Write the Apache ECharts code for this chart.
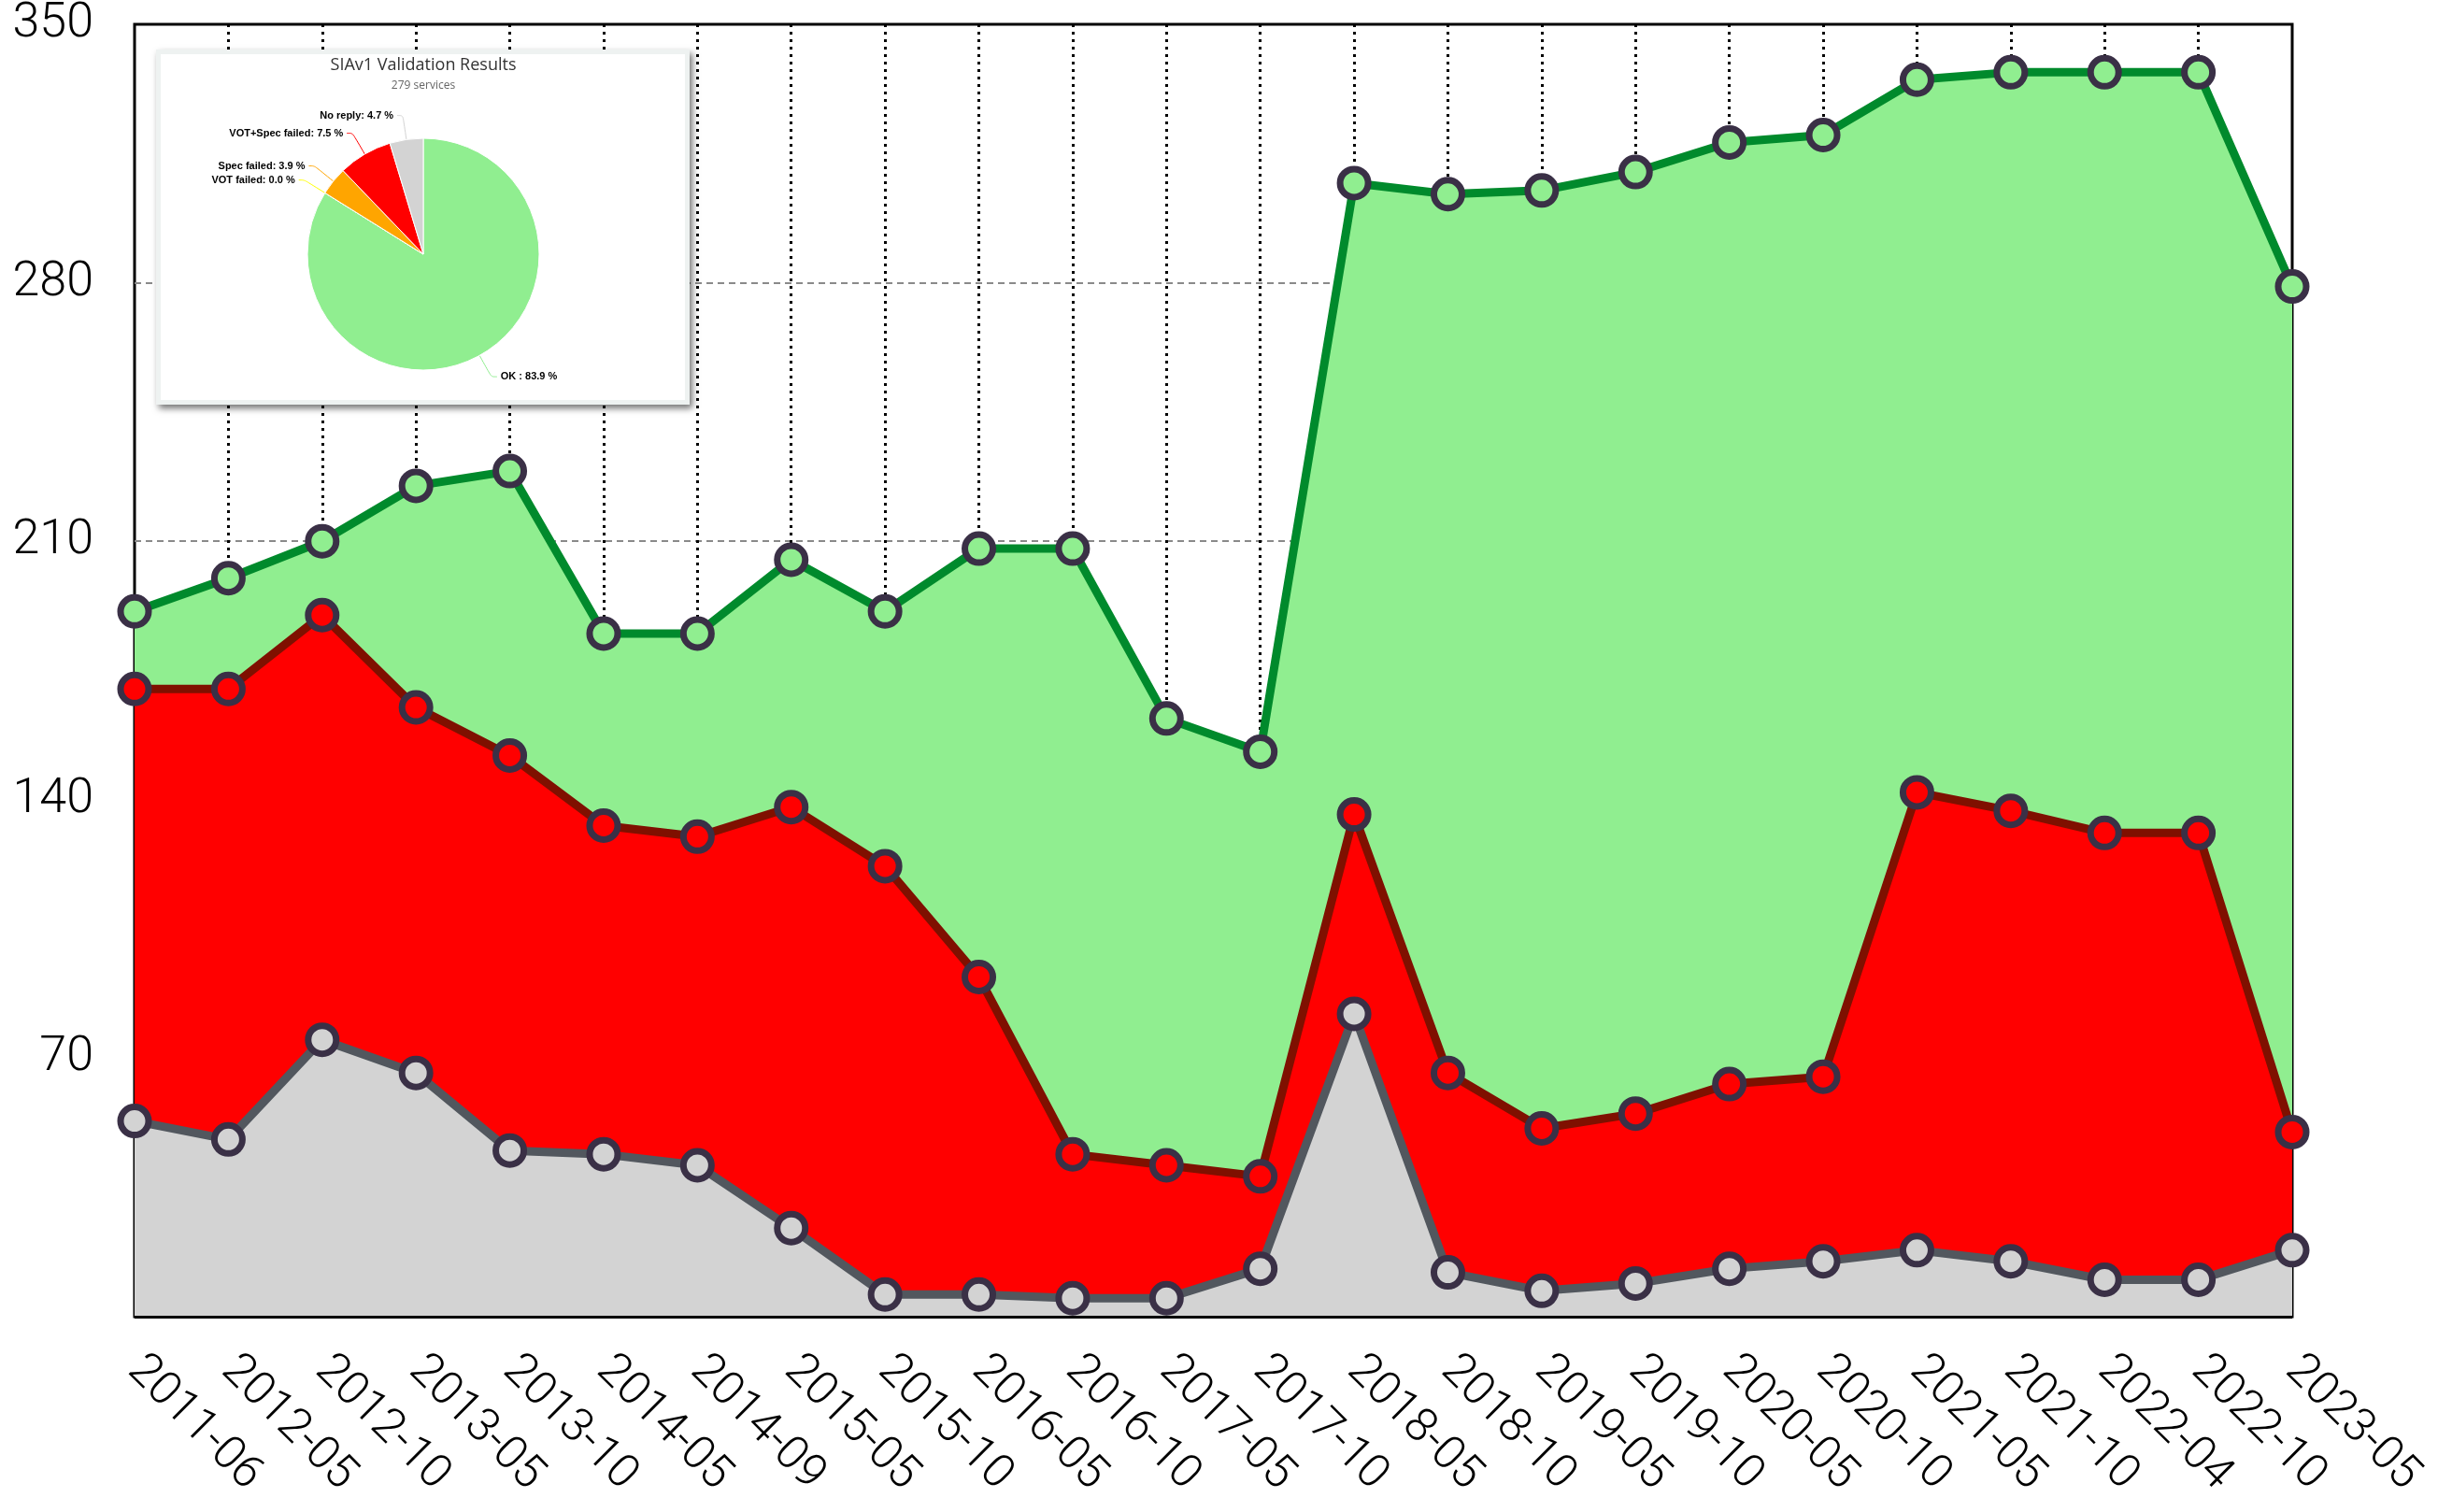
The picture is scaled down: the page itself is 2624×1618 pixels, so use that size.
<!DOCTYPE html>
<html>
<head>
<meta charset="utf-8">
<script src="https://cdn.jsdelivr.net/npm/echarts@6/dist/echarts.min.js"></script>
<style>
html,body{margin:0;padding:0;background:#fff;}
#chart{width:2624px;height:1618px;}
</style>
</head>
<body>
<div id="chart"></div>
<script>
// ---- data ----
const categories = ['2011-06','2012-05','2012-10','2013-05','2013-10','2014-05','2014-09','2015-05','2015-10','2016-05','2016-10','2017-05','2017-10','2018-05','2018-10','2019-05','2019-10','2020-05','2020-10','2021-05','2021-10','2022-04','2022-10','2023-05'];
const totalServices = [191, 200, 210, 225, 229, 185, 185, 205, 191, 208, 208, 162, 153, 307, 304, 305, 310, 318, 320, 335, 337, 337, 337, 279];
const failedServices = [170, 170, 190, 165, 152, 133, 130, 138, 122, 92, 44, 41, 38, 136, 66, 51, 55, 63, 65, 142, 137, 131, 131, 50];
const noReplyServices = [53, 48, 75, 66, 45, 44, 41, 24, 6, 6, 5, 5, 13, 82, 12, 7, 9, 13, 15, 18, 15, 10, 10, 18];
const yTicks = [0, 70, 140, 210, 280, 350];

const pieTitle = 'SIAv1 Validation Results';
const pieSubtitle = '279 services';
const pieNames = ['OK', 'VOT failed', 'Spec failed', 'VOT+Spec failed', 'No reply'];
const pieValues = [234, 0, 11, 21, 13];
const pieColors = ['#90ee90', '#ffff00', '#ffa500', '#ff0000', '#d3d3d3'];

// ---- chart ----
const chart = echarts.init(document.getElementById('chart'));
const markerBorder = '#3a3046';

function lineSeries(name, data, lineColor, fillColor) {
  return {
    name: name,
    type: 'line',
    data: data,
    symbol: 'circle',
    symbolSize: 30,
    showAllSymbol: true,
    lineStyle: { color: lineColor, width: 9 },
    itemStyle: { color: fillColor, borderColor: markerBorder, borderWidth: 7 },
    areaStyle: { color: fillColor, opacity: 1 },
    emphasis: { disabled: true },
    animation: false
  };
}

const grey = lineSeries('No reply', noReplyServices, '#52575e', '#d3d3d3');
grey.markLine = {
  silent: true,
  symbol: 'none',
  label: { show: false },
  lineStyle: { color: '#000', width: 3, type: 'solid' },
  data: [{ yAxis: 0 }],
  animation: false
};

const option = {
  backgroundColor: '#ffffff',
  animation: false,
  grid: {
    left: 144, right: 171, top: 25, bottom: 209,
    show: true, borderColor: '#000', borderWidth: 3, backgroundColor: 'transparent',
    containLabel: false
  },
  xAxis: {
    type: 'category',
    data: categories,
    boundaryGap: false,
    axisLine: { show: false },
    axisTick: { show: false },
    axisLabel: {
      interval: 0, rotate: -45, margin: 50,
      fontSize: 50, fontFamily: 'Roboto', fontWeight: 300, color: '#000'
    },
    splitLine: { show: true, interval: 0, showMinLine: false, showMaxLine: false,
      lineStyle: { color: '#000', width: 3, type: [3, 5] } }
  },
  yAxis: {
    type: 'value',
    min: yTicks[0], max: yTicks[yTicks.length - 1], interval: yTicks[1] - yTicks[0],
    axisLine: { show: false },
    axisTick: { show: false },
    axisLabel: {
      showMinLabel: false, margin: 44,
      fontSize: 52, fontFamily: 'Roboto', fontWeight: 300, color: '#000'
    },
    splitLine: { show: true, showMinLine: false, showMaxLine: false,
      lineStyle: { color: '#8a8a8a', width: 2, type: [7, 5] } }
  },
  graphic: [
    { type: 'rect', z: 20, shape: { x: 167, y: 53, width: 571, height: 380 },
      style: { fill: '#eef2f1', shadowBlur: 7, shadowOffsetX: 3, shadowOffsetY: 4, shadowColor: 'rgba(0,0,0,0.55)' } },
    { type: 'rect', z: 21, shape: { x: 172, y: 58, width: 561, height: 370 },
      style: { fill: '#ffffff' } },
    { type: 'text', z: 22, style: { x: 453, y: 70, text: pieTitle, fill: '#333', fontSize: 18,
      fontFamily: 'Open Sans', textAlign: 'center', textVerticalAlign: 'middle' } },
    { type: 'text', z: 22, style: { x: 453, y: 92, text: pieSubtitle, fill: '#666', fontSize: 12,
      fontFamily: 'Open Sans', textAlign: 'center', textVerticalAlign: 'middle' } }
  ],
  series: [
    lineSeries('Total', totalServices, '#008a2c', '#90ee90'),
    lineSeries('Failed', failedServices, '#7f1000', '#ff0000'),
    grey,
    {
      type: 'pie',
      z: 30,
      center: [453, 272],
      radius: 124,
      startAngle: 90,
      clockwise: true,
      percentPrecision: 1,
      avoidLabelOverlap: true,
      animation: false,
      emphasis: { disabled: true },
      itemStyle: { borderColor: '#ffffff', borderWidth: 1 },
      label: {
        show: true,
        fontSize: 11, fontWeight: 'bold', fontFamily: 'Liberation Sans', color: '#000',
        distanceToLabelLine: 4,
        formatter: function (p) {
          return (p.name === 'OK' ? 'OK ' : p.name) + ': ' + p.percent.toFixed(1) + ' %';
        }
      },
      labelLine: { show: true, length: 26, length2: 6, smooth: 0.3, lineStyle: { width: 1 } },
      data: pieNames.map(function (n, i) {
        return { name: n, value: pieValues[i], itemStyle: { color: pieColors[i] } };
      })
    }
  ]
};
chart.setOption(option);
</script>
</body>
</html>
